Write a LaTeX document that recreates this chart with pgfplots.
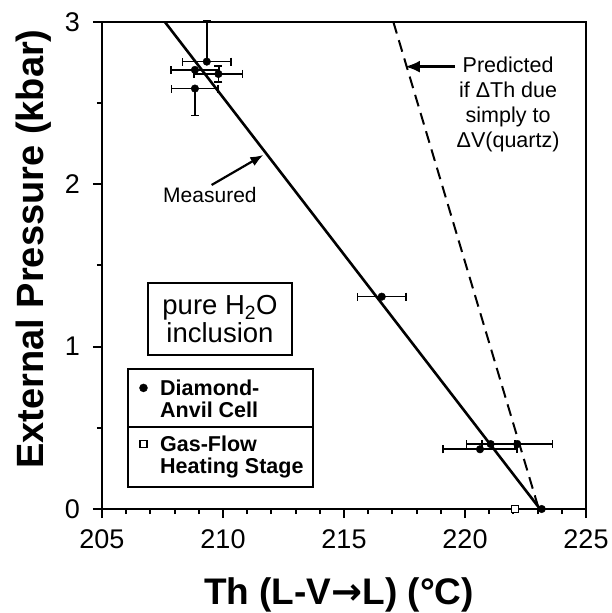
\documentclass[border=0pt]{standalone}
\usepackage{pgfplots}
\pgfplotsset{compat=1.18}
\usepackage{fontspec}
\setmainfont{Liberation Sans}
\newfontfamily\arrowfont{DejaVu Sans}
\usetikzlibrary{arrows.meta}

\begin{document}
\begin{tikzpicture}
\useasboundingbox (0,0) rectangle (612pt,613pt);
\begin{axis}[
    at={(102pt,104pt)}, anchor=south west,
    scale only axis, width=484pt, height=487pt,
    xmin=205, xmax=225, ymin=0, ymax=3,
    xtick={205,210,...,225}, ytick={0,1,2,3},
    minor x tick num=4, minor y tick num=1,
    xtick pos=bottom, ytick pos=left,
    tick align=outside,
    major tick length=9pt, minor tick length=5pt,
    tick style={black, line width=2pt},
    axis line style={line width=2.5pt},
    /pgf/number format/assume math mode=true,
    /pgf/number format/1000 sep={},
    ticklabel style={font=\fontsize{27}{27}\selectfont, inner sep=0pt},
    xticklabel style={anchor=north, yshift=-11pt},
    yticklabel style={anchor=east, xshift=-13pt},
    xlabel={Th (L-V{\arrowfont\bfseries →}L) (°C)},
    ylabel={External Pressure (kbar)},
    every axis x label/.style={at={(rel axis cs:0.4897,-0.1951)}, anchor=base,
        inner sep=0pt, font=\fontsize{37}{37}\bfseries\selectfont},
    every axis y label/.style={at={(rel axis cs:-0.1777,0.534)}, anchor=north, rotate=90,
        inner sep=0pt, font=\fontsize{38}{38}\bfseries\selectfont},
    clip=false,
    legend image code/.code={\draw[#1] plot coordinates {(0pt,-8pt)};},
    legend style={at={(axis cs:206.541,0.7965)}, anchor=north west,
        draw=none, fill=none, inner sep=0pt, row sep=17pt, column sep=12.7pt,
        font=\fontsize{21.5}{22}\bfseries\selectfont,
        nodes={inner sep=0pt}, cells={anchor=north west, align=left}},
]

% measured fit and predicted line
\addplot[forget plot, black, line width=2.6pt] coordinates {(207.6,3) (223.1,0)};
\addplot[forget plot, black, line width=2pt, dash pattern=on 12pt off 7pt] coordinates {(217.04,3) (223.05,0)};

% diamond-anvil cell, x errors only
\addplot[forget plot, black, only marks, mark=*, mark size=3.8pt,
    error bars/.cd, x dir=both, x explicit,
    error bar style={line width=1.6pt},
    error mark options={rotate=90, mark size=4pt, line width=1.6pt}]
coordinates {
    (208.84,2.705) +- (1.0,0)
    (216.56,1.308) +- (1.0,0)
    (220.62,0.368) +- (1.53,0)
    (221.06,0.40)  +- (1.0,0)
    (222.16,0.40)  +- (1.45,0)
};
\addplot[forget plot, black, only marks, mark=*, mark size=3.8pt,
    error bars/.cd, x dir=both, x explicit, y dir=plus, y explicit,
    error bar style={line width=1.6pt},
    error mark options={rotate=90, mark size=4pt, line width=1.6pt}]
coordinates {(209.33,2.756) +- (1.0,0.25)};
\addplot[forget plot, black, only marks, mark=*, mark size=3.8pt,
    error bars/.cd, x dir=both, x explicit, y dir=minus, y explicit,
    error bar style={line width=1.6pt},
    error mark options={rotate=90, mark size=4pt, line width=1.6pt}]
coordinates {(208.84,2.59) +- (0.96,0.165)};
\addplot[forget plot, black, only marks, mark=*, mark size=3.8pt,
    error bars/.cd, x dir=both, x explicit, y dir=both, y explicit,
    error bar style={line width=1.6pt},
    error mark options={rotate=90, mark size=4pt, line width=1.6pt}]
coordinates {(209.81,2.68) +- (1.0,0.05)};
\addplot[forget plot, black, only marks, mark=*, mark size=3.8pt] coordinates {(223.17,0)};

% gas-flow heating stage
\addplot[forget plot, black, only marks, mark=square*, mark size=3.5pt,
    mark options={fill=white, line width=1.5pt}] coordinates {(222.07,0)};

% annotations
\node[font=\fontsize{21.5}{25}\selectfont, align=center] at (axis cs:221.78,2.494)
    {Predicted\\if ΔTh due\\simply to\\ΔV(quartz)};
\draw[line width=2.5pt, -{Latex[length=15pt,width=12pt]}]
    (axis cs:219.59,2.725) -- (axis cs:217.52,2.725);
\node[font=\fontsize{21}{21}\selectfont] at (axis cs:209.46,1.934) {Measured};
\draw[line width=2.2pt, -{Latex[length=13pt,width=10pt]}]
    (axis cs:209.53,1.996) -- (axis cs:211.67,2.181);
\node[draw, line width=2pt, minimum width=143pt, minimum height=72pt, inner sep=0pt,
    align=center, font=\fontsize{27.5}{28.3}\selectfont] at (axis cs:209.876,1.169)
    {pure H\textsubscript{2}O\\inclusion};

% legend frame
\draw[line width=2pt] (axis cs:206.087,0.8606) rectangle (axis cs:213.731,0.1374);
\draw[line width=2pt] (axis cs:206.087,0.5033) -- (axis cs:213.731,0.5033);

\addlegendimage{black, only marks, mark=*, mark size=4pt}
\addlegendimage{black, only marks, mark=square, mark size=3.5pt, line width=1.6pt}
\legend{{Diamond-\\Anvil Cell}, {Gas-Flow\\Heating Stage}}
\end{axis}
\end{tikzpicture}
\end{document}
